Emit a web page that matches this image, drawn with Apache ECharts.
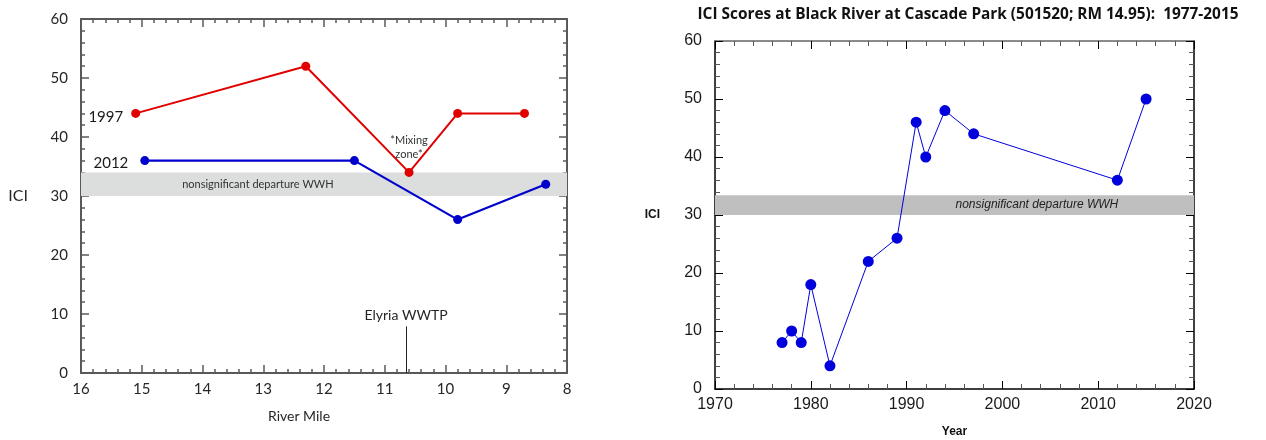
<!DOCTYPE html>
<html>
<head>
<meta charset="utf-8">
<script src="https://cdn.jsdelivr.net/npm/echarts@6/dist/echarts.min.js"></script>
<style>
  html, body { margin: 0; padding: 0; background: #fff; }
  #chart { width: 1266px; height: 440px; }
</style>
</head>
<body>
<div id="chart"></div>
<script>
// Left panel: ICI by river mile, two survey years
const surveyYears = ['1997', '2012'];
const riverMile1997 = [15.1, 12.3, 10.6, 9.8, 8.7];
const ici1997 = [44, 52, 34, 44, 44];
const riverMile2012 = [14.95, 11.5, 9.8, 8.35];
const ici2012 = [36, 36, 26, 32];
const bandLeft = [30, 34];
const wwtpMile = 10.65;
const wwtpMarkTop = 7.9;

// Right panel: ICI over time at one site
const sampleYears = [1977, 1978, 1979, 1980, 1982, 1986, 1989, 1991, 1992, 1994, 1997, 2012, 2015];
const iciByYear = [8, 10, 8, 18, 4, 22, 26, 46, 40, 48, 44, 36, 50];
const bandRight = [30, 33.4];

const bandText = 'nonsignificant departure WWH';
const titleText = 'ICI Scores at Black River at Cascade Park (501520; RM 14.95):  1977-2015';

const pairs = (xs, ys) => xs.map((x, i) => [x, ys[i]]);

const leftFont = 'Lato, "Open Sans", sans-serif';
const rightFont = '"Liberation Sans", Arial, sans-serif';
const axisGrey = '#595959';

function frameAxis(base, extra) {
  return Object.assign({
    type: 'value',
    splitLine: { show: false },
    axisLine: { show: true, onZero: false, lineStyle: { color: axisGrey, width: 2 } },
    axisTick: { show: true, inside: true, length: 8, lineStyle: { color: axisGrey, width: 1.5 } },
    minorTick: { show: true, splitNumber: 5, length: 4, lineStyle: { color: axisGrey, width: 1.5 } },
    axisLabel: { show: false }
  }, base, extra);
}

const leftX = { gridIndex: 0, min: 8, max: 16, interval: 1, inverse: true };
const leftY = { gridIndex: 0, min: 0, max: 60, interval: 10 };
const rightX = { gridIndex: 1, min: 1970, max: 2020, interval: 10 };
const rightY = { gridIndex: 1, min: 0, max: 60, interval: 10 };

const rightAxisLine = { show: true, onZero: false, lineStyle: { color: '#000', width: 1.5 } };
const rightTick = { show: true, inside: true, length: 8, lineStyle: { color: '#000', width: 1 } };
const rightMinor = { show: true, splitNumber: 5, length: 5, lineStyle: { color: '#555', width: 1 } };

const firstLabel = (text, offset) => ({
  show: true, position: 'left', distance: 8, offset: offset,
  formatter: text, color: '#1a1a1a', fontFamily: leftFont, fontSize: 15
});

const redData = pairs(riverMile1997, ici1997).map((v, i) => {
  if (i === 0) return { value: v, label: firstLabel(surveyYears[0], [0, 4]) };
  if (i === 2) return {
    value: v,
    label: {
      show: true, position: 'top', distance: 6, formatter: '*Mixing\nzone*',
      color: '#333', fontFamily: leftFont, fontSize: 11, lineHeight: 14
    }
  };
  return v;
});
const blueData = pairs(riverMile2012, ici2012).map((v, i) =>
  i === 0 ? { value: v, label: firstLabel(surveyYears[1], [-4, 3]) } : v);

const option = {
  animation: false,
  title: {
    text: titleText,
    left: 963, top: 2, textAlign: 'center',
    textStyle: { fontFamily: '"Open Sans", sans-serif', fontWeight: 'bold', fontSize: 15.4, color: '#111' }
  },
  grid: [
    { left: 81, top: 19, width: 486, height: 354, outerBoundsMode: 'none', containLabel: false },
    { left: 715, top: 41, width: 479, height: 348, outerBoundsMode: 'none', containLabel: false }
  ],
  xAxis: [
    frameAxis(leftX, {
      position: 'bottom',
      name: 'River Mile', nameLocation: 'middle', nameGap: 36,
      nameTextStyle: { fontFamily: leftFont, fontSize: 14, color: '#262626', padding: [0, 50, 0, 0] },
      axisLabel: { show: true, margin: 9, fontFamily: leftFont, fontSize: 15, color: '#262626' }
    }),
    frameAxis(leftX, { position: 'top' }),
    frameAxis(rightX, {
      position: 'bottom',
      axisLine: rightAxisLine, axisTick: rightTick, minorTick: rightMinor,
      name: 'Year', nameLocation: 'middle', nameGap: 37,
      nameTextStyle: { fontFamily: rightFont, fontSize: 12, fontWeight: 'bold', color: '#111' },
      axisLabel: {
        show: true, margin: 8, fontFamily: rightFont, fontSize: 16, color: '#1a1a1a',
        formatter: (v) => String(v)
      }
    }),
    frameAxis(rightX, {
      position: 'top',
      axisLine: { show: true, onZero: false, lineStyle: { color: '#666', width: 1.5 } },
      axisTick: rightTick, minorTick: rightMinor
    })
  ],
  yAxis: [
    frameAxis(leftY, {
      position: 'left',
      name: 'ICI', nameLocation: 'middle', nameRotate: 0, nameGap: 53,
      nameTextStyle: { fontFamily: leftFont, fontSize: 16, color: '#262626' },
      axisLabel: { show: true, margin: 13, fontFamily: leftFont, fontSize: 15, color: '#262626' }
    }),
    frameAxis(leftY, { position: 'right' }),
    frameAxis(rightY, {
      position: 'left',
      axisLine: rightAxisLine, axisTick: rightTick, minorTick: rightMinor,
      name: 'ICI', nameLocation: 'middle', nameRotate: 0, nameGap: 55,
      nameTextStyle: { fontFamily: rightFont, fontSize: 12, fontWeight: 'bold', color: '#111' },
      axisLabel: { show: true, margin: 13, fontFamily: rightFont, fontSize: 16, color: '#1a1a1a' }
    }),
    frameAxis(rightY, {
      position: 'right',
      axisLine: rightAxisLine, axisTick: rightTick, minorTick: rightMinor
    })
  ],
  series: [
    {
      name: surveyYears[1], type: 'line', xAxisIndex: 0, yAxisIndex: 0,
      data: blueData, symbol: 'circle', symbolSize: 9,
      lineStyle: { color: '#0000cc', width: 2.2 }, itemStyle: { color: '#0000cc' },
      markArea: {
        silent: true,
        itemStyle: { color: '#dcdddd' },
        label: {
          show: true, position: ['36.4%', '50%'], align: 'center', verticalAlign: 'middle',
          color: '#333', fontFamily: leftFont, fontSize: 11
        },
        data: [[{ name: bandText, xAxis: 16, yAxis: bandLeft[0] }, { xAxis: 8, yAxis: bandLeft[1] }]]
      },
      markLine: {
        silent: true, symbol: 'none',
        lineStyle: { color: '#222', width: 1, type: 'solid' },
        label: {
          show: true, position: 'end', distance: 4, formatter: 'Elyria WWTP',
          color: '#262626', fontFamily: leftFont, fontSize: 14
        },
        data: [[{ coord: [wwtpMile, 0] }, { coord: [wwtpMile, wwtpMarkTop] }]]
      }
    },
    {
      name: surveyYears[0], type: 'line', xAxisIndex: 0, yAxisIndex: 0,
      data: redData, symbol: 'circle', symbolSize: 9,
      lineStyle: { color: '#e00000', width: 2 }, itemStyle: { color: '#e00000' }
    },
    {
      name: 'ICI', type: 'line', xAxisIndex: 2, yAxisIndex: 2,
      data: pairs(sampleYears, iciByYear), symbol: 'circle', symbolSize: 11,
      lineStyle: { color: '#0000dd', width: 1 }, itemStyle: { color: '#0000dd' },
      markArea: {
        silent: true,
        itemStyle: { color: '#bfbfbf' },
        label: {
          show: true, position: ['67.2%', '50%'], align: 'center', verticalAlign: 'middle',
          color: '#222', fontFamily: rightFont, fontSize: 12, fontStyle: 'italic'
        },
        data: [[{ name: bandText, xAxis: 1970, yAxis: bandRight[0] }, { xAxis: 2020, yAxis: bandRight[1] }]]
      }
    }
  ]
};

const chart = echarts.init(document.getElementById('chart'), null, { renderer: 'canvas' });
chart.setOption(option);
</script>
</body>
</html>
